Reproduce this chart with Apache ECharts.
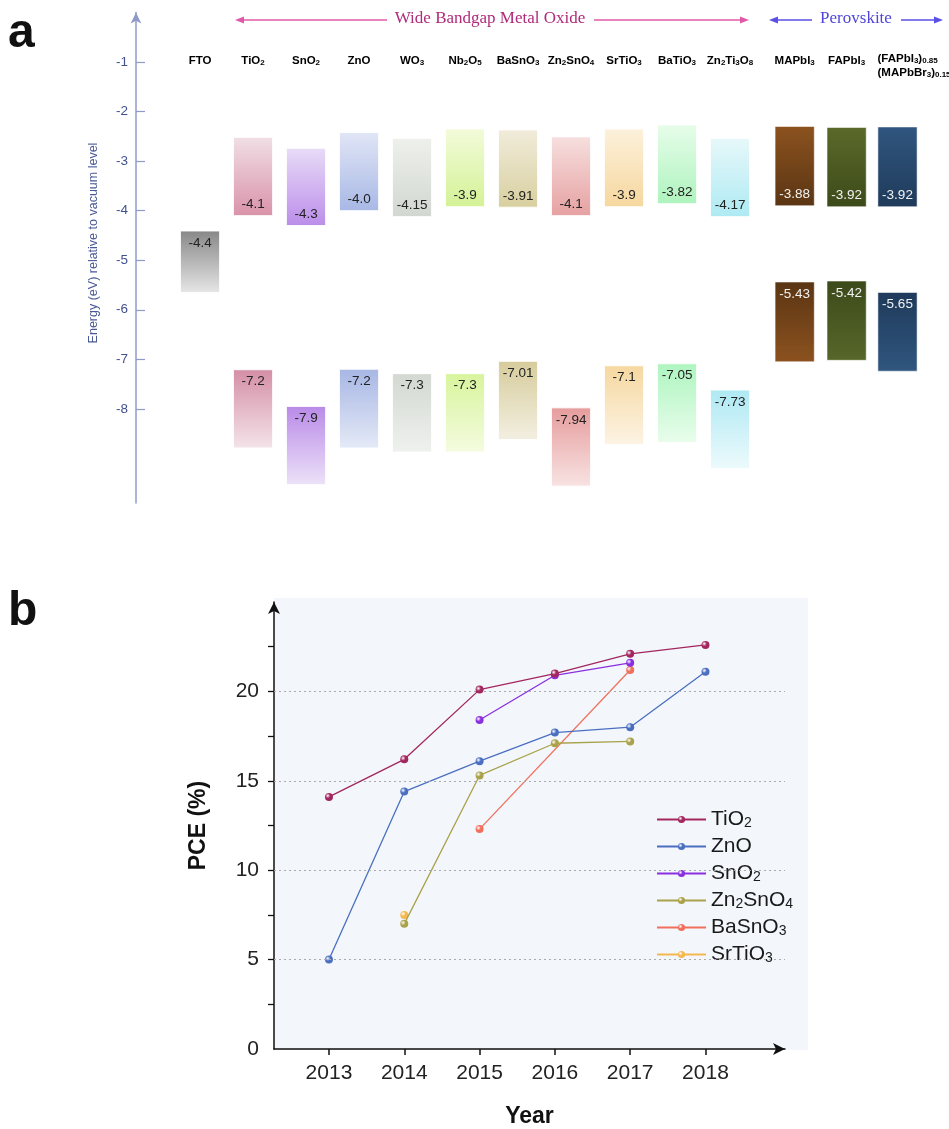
<!DOCTYPE html>
<html>
<head>
<meta charset="utf-8">
<script src="https://cdn.jsdelivr.net/npm/echarts@6/dist/echarts.min.js"></script>
<style>
html, body { margin: 0; padding: 0; background: #fff; }
#main { width: 949px; height: 1129px; }
</style>
</head>
<body>
<div id="main"></div>
<script>
// ---- panel a: band alignment ----
var materials = ['FTO', 'TiO2', 'SnO2', 'ZnO', 'WO3', 'Nb2O5', 'BaSnO3', 'Zn2SnO4', 'SrTiO3', 'BaTiO3', 'Zn2Ti3O8', 'MAPbI3', 'FAPbI3', '(FAPbI3)0.85\n(MAPbBr3)0.15'];
var matPos = [0, 1, 2, 3, 4, 5, 6, 7, 8, 9, 10, 11.22, 12.2, 13.16];

// FTO work function block
var ftoTop = [-4.41];
var ftoBottom = [-5.65];
var ftoLabel = ['-4.4'];

// conduction band blocks (TiO2 ... mixed perovskite)
var cbTop = [-2.52, -2.74, -2.42, -2.54, -2.35, -2.37, -2.51, -2.35, -2.27, -2.54, -2.30, -2.32, -2.31];
var cbEdge = [-4.1, -4.3, -4.0, -4.12, -3.92, -3.93, -4.1, -3.92, -3.86, -4.12, -3.9, -3.92, -3.92];
var cbLabel = ['-4.1', '-4.3', '-4.0', '-4.15', '-3.9', '-3.91', '-4.1', '-3.9', '-3.82', '-4.17', '-3.88', '-3.92', '-3.92'];

// valence band blocks
var vbEdge = [-7.21, -7.95, -7.2, -7.29, -7.29, -7.04, -7.98, -7.13, -7.09, -7.62, -5.44, -5.42, -5.65];
var vbBottom = [-8.79, -9.53, -8.79, -8.87, -8.87, -8.62, -9.56, -8.72, -8.68, -9.21, -7.05, -7.02, -7.24];
var vbLabel = ['-7.2', '-7.9', '-7.2', '-7.3', '-7.3', '-7.01', '-7.94', '-7.1', '-7.05', '-7.73', '-5.43', '-5.42', '-5.65'];

var energyTicks = [-1, -2, -3, -4, -5, -6, -7, -8];

// ---- panel b: PCE by year ----
var years = [2013, 2014, 2015, 2016, 2017, 2018];
var pceNames = ['TiO2', 'ZnO', 'SnO2', 'Zn2SnO4', 'BaSnO3', 'SrTiO3'];
var pceTiO2 = [[2013, 14.1], [2014, 16.2], [2015, 20.1], [2016, 21.0], [2017, 22.1], [2018, 22.6]];
var pceZnO = [[2013, 5.0], [2014, 14.4], [2015, 16.1], [2016, 17.7], [2017, 18.0], [2018, 21.1]];
var pceSnO2 = [[2015, 18.4], [2016, 20.9], [2017, 21.6]];
var pceZn2SnO4 = [[2014, 7.0], [2015, 15.3], [2016, 17.1], [2017, 17.2]];
var pceBaSnO3 = [[2015, 12.3], [2017, 21.2]];
var pceSrTiO3 = [[2014, 7.5]];
var pceGrid = [5, 10, 15, 20];
var pceLabelTicks = [0, 5, 10, 15, 20];
var pceMinorTicks = [2.5, 5, 7.5, 10, 12.5, 15, 17.5, 20, 22.5];

// styles
var FONT = '"Liberation Sans", Arial, sans-serif';
var ftoColors = [['#878787', '#e6e6e6']];
var cbColors = [
    ['#f1dfe5', '#d992a9'], ['#e8dcf7', '#bb8dea'], ['#e1e6f6', '#a8b8e5'], ['#eef0ec', '#d2d7d1'],
    ['#f3fbda', '#d4f296'], ['#f1ecdb', '#d8cf9f'], ['#f7dfdf', '#e6a1a1'], ['#fcf1dc', '#f6d79e'],
    ['#e7fdea', '#aef3bd'], ['#e7f8fa', '#aeeaf3'],
    ['#8c521f', '#5a3513'], ['#5b6a29', '#3c4a1a'], ['#30567f', '#1f3a5a']
];
var vbColors = [
    ['#d48ea6', '#f4e4e9'], ['#b98ae8', '#ede2f8'], ['#a7b6e4', '#e5eaf7'], ['#d3d8d1', '#eff1ee'],
    ['#d8f49c', '#f4fce0'], ['#d6cc9c', '#f3efe1'], ['#e69c9c', '#f8e3e3'], ['#f6d8a0', '#fcf3e4'],
    ['#aef5bf', '#e9fdec'], ['#aee9f3', '#edfafc'],
    ['#5a3513', '#8c521f'], ['#3c4a1a', '#57672a'], ['#1f3a5a', '#30567f']
];
var lineColors = ['#a3265f', '#4b6fc0', '#8a2fe0', '#aaa24a', '#f0705c', '#f5b84e'];

function subText(name) {
    return '{n|' + name.replace(/(\d+(\.\d+)?)/g, '}{s|$1}{n|') + '}';
}

function makeBand(name, tops, bottoms, labels, cols, offset, labelAtTop) {
    return {
        name: name,
        type: 'custom',
        xAxisIndex: 0,
        yAxisIndex: 0,
        silent: true,
        data: tops.map(function (t, i) { return [matPos[i + offset], t, bottoms[i]]; }),
        renderItem: function (params, api) {
            var i = params.dataIndex;
            var x = api.value(0);
            var p1 = api.coord([x - 0.37, api.value(1)]);
            var p2 = api.coord([x + 0.37, api.value(2)]);
            var dark = (i + offset) >= 11;
            var ly = labelAtTop ? p1[1] + 12 : p2[1] - 11;
            return {
                type: 'group',
                children: [{
                    type: 'rect',
                    shape: { x: p1[0], y: p1[1], width: p2[0] - p1[0], height: p2[1] - p1[1] },
                    style: {
                        fill: new echarts.graphic.LinearGradient(0, 0, 0, 1, [
                            { offset: 0, color: cols[i][0] },
                            { offset: 1, color: cols[i][1] }
                        ]),
                        stroke: dark ? 'rgba(255,255,255,0.55)' : 'rgba(255,255,255,0.9)',
                        lineWidth: 1
                    }
                }, {
                    type: 'text',
                    style: {
                        x: (p1[0] + p2[0]) / 2,
                        y: ly,
                        text: labels[i],
                        align: 'center',
                        verticalAlign: 'middle',
                        fill: dark ? '#f2f2f2' : '#222',
                        font: '13.5px ' + FONT
                    }
                }]
            };
        }
    };
}

var nameSeries = {
    type: 'custom',
    xAxisIndex: 0,
    yAxisIndex: 0,
    silent: true,
    data: materials.map(function (m, i) { return [matPos[i], -0.95]; }),
    renderItem: function (params, api) {
        var i = params.dataIndex;
        var p = api.coord([api.value(0), api.value(1)]);
        var multi = materials[i].indexOf('\n') >= 0;
        return {
            type: 'text',
            style: {
                x: multi ? p[0] - 20 : p[0],
                y: multi ? p[1] + 5 : p[1],
                text: subText(materials[i]),
                align: multi ? 'left' : 'center',
                verticalAlign: 'middle',
                rich: {
                    n: { fontSize: 11.5, fontFamily: FONT, fontWeight: 'bold', color: '#1a1a1a', lineHeight: 14, verticalAlign: 'bottom' },
                    s: { fontSize: 8, fontFamily: FONT, fontWeight: 'bold', color: '#1a1a1a', lineHeight: 6, verticalAlign: 'bottom' }
                }
            }
        };
    }
};

function markerColor(c) {
    return new echarts.graphic.RadialGradient(0.35, 0.35, 0.7, [
        { offset: 0, color: '#ffffff' },
        { offset: 0.45, color: c },
        { offset: 1, color: c }
    ]);
}

var pceData = [pceTiO2, pceZnO, pceSnO2, pceZn2SnO4, pceBaSnO3, pceSrTiO3];
var lineSeries = pceNames.map(function (n, k) {
    var s = {
        name: n,
        type: 'line',
        xAxisIndex: 1,
        yAxisIndex: 1,
        data: pceData[k],
        symbol: 'circle',
        symbolSize: 8,
        showSymbol: true,
        lineStyle: { color: lineColors[k], width: 1.3 },
        itemStyle: { color: markerColor(lineColors[k]) },
        z: 5 - k * 0.1
    };
    if (k === 0) {
        s.markLine = {
            silent: true,
            symbol: 'none',
            label: { show: false },
            lineStyle: { color: '#aaaaaa', type: [2, 3], width: 1 },
            data: pceGrid.map(function (v) { return { yAxis: v }; })
        };
    }
    return s;
});

var myChart = echarts.init(document.getElementById('main'));
var option = {
    animation: false,
    backgroundColor: '#ffffff',
    grid: [
        { left: 136, top: 12.5, width: 811, height: 490.5 },
        { left: 274, top: 602, width: 511, height: 448.5 }
    ],
    xAxis: [{
        gridIndex: 0,
        type: 'value',
        min: -1.208,
        max: 14.094,
        show: false
    }, {
        gridIndex: 1,
        type: 'value',
        min: 2012.27,
        max: 2019.056,
        axisLine: { show: true, onZero: false, symbol: ['none', 'arrow'], symbolSize: [9, 12], lineStyle: { color: '#111', width: 1.5 } },
        axisTick: { show: true, customValues: years, length: 6, lineStyle: { color: '#111', width: 1.5 } },
        axisLabel: { customValues: years, formatter: function (v) { return String(v); }, fontSize: 21, color: '#222', fontFamily: FONT, margin: 14 },
        splitLine: { show: false },
        name: 'Year',
        nameLocation: 'middle',
        nameGap: 56,
        nameTextStyle: { fontSize: 23, fontWeight: 'bold', color: '#111', fontFamily: FONT }
    }],
    yAxis: [{
        gridIndex: 0,
        type: 'value',
        min: -9.9,
        max: 0,
        axisLine: { show: true, onZero: false, symbol: ['none', 'arrow'], symbolSize: [8, 11], lineStyle: { color: '#8e9bc9', width: 1.5 } },
        axisTick: { show: true, inside: true, length: 9, customValues: energyTicks, lineStyle: { color: '#8e9bc9', width: 1.2 } },
        axisLabel: { customValues: energyTicks, color: '#42518f', fontSize: 13.5, fontFamily: FONT, margin: 8 },
        splitLine: { show: false }
    }, {
        gridIndex: 1,
        type: 'value',
        min: 0,
        max: 25,
        axisLine: { show: true, onZero: false, symbol: ['none', 'arrow'], symbolSize: [9, 12], lineStyle: { color: '#111', width: 1.5 } },
        axisTick: { show: true, customValues: pceMinorTicks, length: 6, lineStyle: { color: '#111', width: 1.3 } },
        axisLabel: { customValues: pceLabelTicks, fontSize: 21, color: '#222', fontFamily: FONT, margin: 15 },
        splitLine: { show: false },
        name: 'PCE (%)',
        nameLocation: 'middle',
        nameGap: 64,
        nameTextStyle: { fontSize: 23, fontWeight: 'bold', color: '#111', fontFamily: FONT }
    }],
    legend: {
        orient: 'vertical',
        left: 651,
        top: 804,
        itemWidth: 49,
        itemHeight: 9,
        itemGap: 6,
        data: pceNames,
        formatter: function (name) { return subText(name); },
        textStyle: {
            color: '#1a1a1a',
            rich: {
                n: { fontSize: 21, fontFamily: FONT, color: '#1a1a1a', lineHeight: 21, verticalAlign: 'bottom' },
                s: { fontSize: 14, fontFamily: FONT, color: '#1a1a1a', lineHeight: 15, verticalAlign: 'bottom' }
            }
        }
    },
    graphic: [
        { type: 'rect', z: -10, silent: true, shape: { x: 274, y: 598, width: 534, height: 452 }, style: { fill: '#f3f7fb' } },
        { type: 'text', style: { x: 8, y: 58, text: 'a', font: 'bold 48px ' + FONT, fill: '#111', verticalAlign: 'bottom' } },
        { type: 'text', style: { x: 8, y: 636, text: 'b', font: 'bold 48px ' + FONT, fill: '#111', verticalAlign: 'bottom' } },
        { type: 'text', x: 94, y: 243, rotation: Math.PI / 2,
          style: { x: 0, y: 0, text: 'Energy (eV) relative to vacuum level', font: '12.5px ' + FONT, fill: '#4a5a96', align: 'center', verticalAlign: 'middle' } },
        // header: wide bandgap metal oxide
        { type: 'line', shape: { x1: 240, y1: 20, x2: 387, y2: 20 }, style: { stroke: '#e05aa8', lineWidth: 1.3 } },
        { type: 'polygon', shape: { points: [[235, 20], [244, 16.5], [244, 23.5]] }, style: { fill: '#e05aa8' } },
        { type: 'line', shape: { x1: 594, y1: 20, x2: 744, y2: 20 }, style: { stroke: '#e05aa8', lineWidth: 1.3 } },
        { type: 'polygon', shape: { points: [[749, 20], [740, 16.5], [740, 23.5]] }, style: { fill: '#e05aa8' } },
        { type: 'text', style: { x: 490, y: 19, text: 'Wide Bandgap Metal Oxide', font: '17px "Liberation Serif", "DejaVu Serif", serif', fill: '#b02a7a', align: 'center', verticalAlign: 'middle' } },
        // header: perovskite
        { type: 'line', shape: { x1: 774, y1: 20, x2: 812, y2: 20 }, style: { stroke: '#5a4fe6', lineWidth: 1.3 } },
        { type: 'polygon', shape: { points: [[769, 20], [778, 16.5], [778, 23.5]] }, style: { fill: '#5a4fe6' } },
        { type: 'line', shape: { x1: 901, y1: 20, x2: 938, y2: 20 }, style: { stroke: '#5a4fe6', lineWidth: 1.3 } },
        { type: 'polygon', shape: { points: [[943, 20], [934, 16.5], [934, 23.5]] }, style: { fill: '#5a4fe6' } },
        { type: 'text', style: { x: 856, y: 19, text: 'Perovskite', font: '17px "Liberation Serif", "DejaVu Serif", serif', fill: '#4f45d8', align: 'center', verticalAlign: 'middle' } }
    ],
    series: [
        makeBand('FTO', ftoTop, ftoBottom, ftoLabel, ftoColors, 0, true),
        makeBand('CB', cbTop, cbEdge, cbLabel, cbColors, 1, false),
        makeBand('VB', vbEdge, vbBottom, vbLabel, vbColors, 1, true),
        nameSeries
    ].concat(lineSeries)
};
myChart.setOption(option);
</script>
</body>
</html>
